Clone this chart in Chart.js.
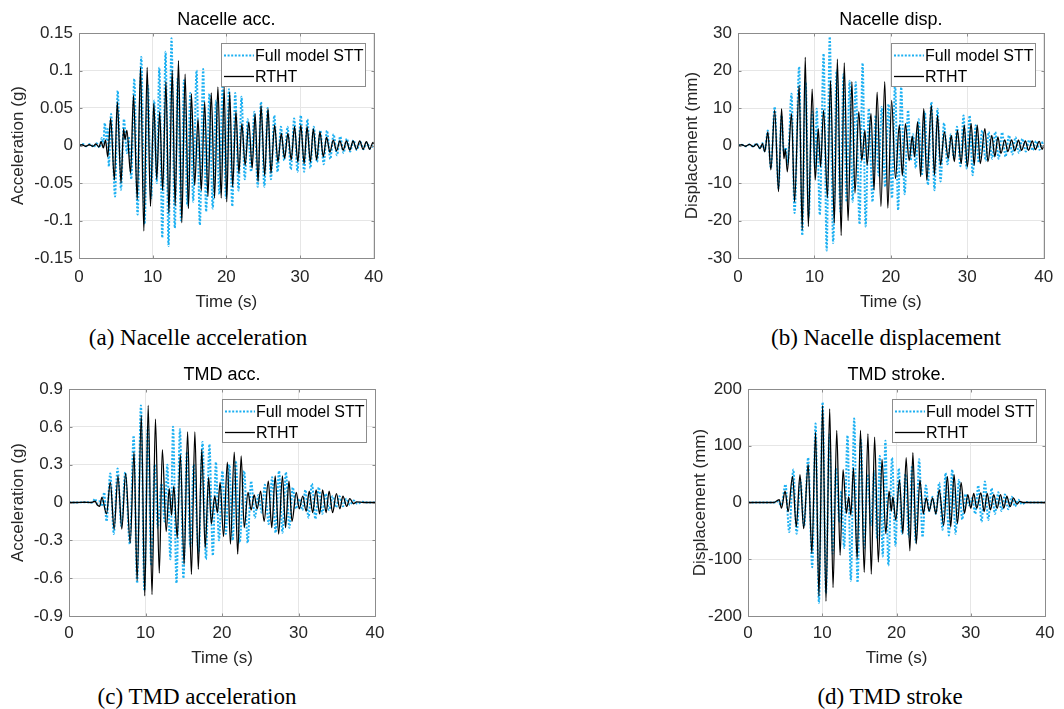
<!DOCTYPE html>
<html>
<head>
<meta charset="utf-8">
<script src="https://cdn.jsdelivr.net/npm/chart.js@4"></script>
<style>
  body { margin: 0; background: #fff; width: 1064px; height: 709px; position: relative; overflow: hidden; }
  canvas { position: absolute; }
  .cap { position: absolute; font-family: "Liberation Serif", "Times New Roman", serif; font-size: 23px; color: #000; transform: translate(-50%, -50%); white-space: nowrap; }
</style>
</head>
<body>
<canvas id="nacAcc" width="392" height="320" style="left:0;top:0"></canvas>
<canvas id="nacDisp" width="392" height="320" style="left:670px;top:0"></canvas>
<canvas id="tmdAcc" width="392" height="320" style="left:0;top:355px"></canvas>
<canvas id="tmdStroke" width="392" height="320" style="left:670px;top:355px"></canvas>
<div class="cap" style="left:198px;top:338px">(a) Nacelle acceleration</div>
<div class="cap" style="left:886px;top:338px">(b) Nacelle displacement</div>
<div class="cap" style="left:197px;top:697px">(c) TMD acceleration</div>
<div class="cap" style="left:890px;top:697px">(d) TMD stroke</div>
<script>
const seriesNames = ["Full model STT", "RTHT"];
const timeTicks = [0, 10, 20, 30, 40];
const nacAccTicks = [-0.15, -0.1, -0.05, 0, 0.05, 0.1, 0.15];
const nacDispTicks = [-30, -20, -10, 0, 10, 20, 30];
const tmdAccTicks = [-0.9, -0.6, -0.3, 0, 0.3, 0.6, 0.9];
const tmdStrokeTicks = [-200, -100, 0, 100, 200];

// peaks and troughs, [time s, value]
const nacAccSTT = [[0,0],[0.5,0.002],[1,-0.001],[1.5,0.002],[2,-0.002],[2.4,0.003],[2.8,-0.003],[3.1,0.01],[3.3,0.003],[3.5,0.03],[3.75,0.008],[3.9,0.022],[4.05,-0.028],[4.35,0.042],[4.9,-0.068],[5.25,0.073],[5.7,-0.059],[6.1,0.035],[6.5,-0.01],[6.75,0.012],[7.1,-0.045],[7.5,0.089],[7.95,-0.092],[8.45,0.118],[8.9,-0.105],[9.35,0.08],[9.8,-0.07],[10.2,0.06],[10.55,-0.05],[10.9,0.104],[11.3,-0.123],[11.75,0.125],[12.15,-0.134],[12.55,0.143],[13,-0.11],[13.4,0.09],[13.85,-0.1],[14.25,0.087],[14.7,-0.08],[15.1,0.07],[15.5,-0.075],[15.95,0.1],[16.4,-0.106],[16.85,0.102],[17.25,-0.088],[17.7,0.069],[18.15,-0.084],[18.6,0.06],[19.05,-0.065],[19.5,0.08],[19.95,-0.07],[20.35,0.075],[20.8,-0.081],[21.2,0.07],[21.65,-0.06],[22.05,0.065],[22.5,-0.045],[22.9,0.035],[23.35,-0.035],[23.8,0.045],[24.25,-0.055],[24.7,0.058],[25.15,-0.055],[25.6,0.05],[26.05,-0.045],[26.5,0.04],[26.95,-0.035],[27.4,0.025],[27.85,-0.02],[28.3,0.025],[28.75,-0.032],[29.2,0.036],[29.65,-0.035],[30.1,0.04],[30.55,-0.035],[31,0.035],[31.4,-0.03],[31.85,0.025],[32.3,-0.022],[32.75,0.02],[33.2,-0.025],[33.65,0.02],[34.1,-0.018],[34.55,0.015],[35,-0.013],[35.45,0.012],[35.9,-0.01],[36.35,0.009],[36.8,-0.008],[37.25,0.007],[37.7,-0.006],[38.15,0.005],[38.6,-0.005],[39.05,0.004],[39.5,-0.004],[40,0]];
const nacAccRTHT = [[0,0],[0.4,0.001],[0.9,-0.001],[1.4,0.001],[1.9,-0.001],[2.3,0.002],[2.7,-0.002],[3,0.005],[3.3,-0.003],[3.6,0.007],[3.9,-0.015],[4.3,0.036],[4.8,-0.046],[5.2,0.058],[5.7,-0.05],[6.05,0.022],[6.25,0.008],[6.5,0.02],[7,-0.037],[7.4,0.067],[7.9,-0.072],[8.35,0.104],[8.8,-0.114],[9.25,0.104],[9.7,-0.081],[10.15,0.056],[10.55,-0.045],[10.95,0.045],[11.35,-0.06],[11.8,0.085],[12.2,-0.09],[12.65,0.1],[13.05,-0.08],[13.5,0.113],[13.95,-0.103],[14.4,0.095],[14.85,-0.084],[15.25,0.069],[15.7,-0.053],[16.15,0.035],[16.6,-0.06],[17.05,0.058],[17.5,-0.068],[17.95,0.07],[18.4,-0.07],[18.85,0.078],[19.3,-0.07],[19.7,0.078],[20.05,-0.075],[20.45,0.071],[20.85,-0.055],[21.3,0.045],[21.7,-0.037],[22.1,0.029],[22.55,-0.026],[23.05,0.031],[23.5,-0.03],[23.9,0.042],[24.3,-0.048],[24.7,0.053],[25.2,-0.04],[25.65,0.049],[26.05,-0.037],[26.55,0.027],[27,-0.022],[27.45,0.016],[27.9,-0.017],[28.35,0.016],[28.8,-0.019],[29.25,0.025],[29.7,-0.022],[30.1,0.027],[30.55,-0.024],[30.95,0.025],[31.4,-0.022],[31.8,0.022],[32.25,-0.019],[32.7,0.018],[33.15,-0.015],[33.6,0.011],[34.05,-0.009],[34.5,0.007],[34.95,-0.007],[35.4,0.006],[35.85,-0.006],[36.3,0.006],[36.75,-0.006],[37.2,0.006],[37.65,-0.005],[38.1,0.006],[38.55,-0.005],[39,0.005],[39.45,-0.005],[39.9,0.004],[40,0.002]];

const nacDispSTT = [[0,0],[0.5,0.2],[1,-0.2],[1.5,0.3],[2,-0.3],[2.4,0.5],[2.9,-0.8],[3.2,0.6],[3.5,-1.5],[3.9,4],[4.3,-6],[4.8,10.3],[5.3,-11.4],[5.7,8],[6,-2],[6.25,-0.5],[6.5,-5],[7,13.8],[7.4,-18],[8,21],[8.4,-24],[8.85,17],[9.25,-19],[9.7,9],[10.1,-6],[10.3,9.8],[10.7,-18.5],[11.2,24.5],[11.6,-28],[12,29],[12.45,-26],[12.9,20],[13.4,-17.6],[13.8,19],[14.2,-15],[14.6,17.3],[15,-15],[15.4,16.9],[15.9,-21],[16.3,22],[16.7,-21.6],[17.1,9.8],[17.6,-15],[18,8],[18.4,-8],[18.8,10.3],[19.25,-11],[19.7,11],[20.15,-14],[20.55,17],[20.95,-17.2],[21.35,15.5],[21.8,-13],[22.25,9.4],[22.6,-4],[22.9,3],[23.25,-6],[23.65,7],[24.05,-8],[24.45,9],[24.85,-10.5],[25.3,11.6],[25.7,-11.9],[26.1,9.8],[26.5,-9.6],[26.95,6],[27.4,-5],[27.85,3],[28.25,-3.5],[28.65,5],[29.1,-5.5],[29.5,8],[29.9,-6.1],[30.3,8],[30.7,-7.9],[31.1,5.4],[31.5,-4.5],[31.95,4],[32.4,-4],[32.8,3.6],[33.25,-3.5],[33.65,3.6],[34.1,-3.5],[34.55,3.5],[35,-3],[35.45,2.7],[35.9,-2.4],[36.3,2.2],[36.75,-2],[37.2,1.8],[37.65,-1.6],[38.1,1.5],[38.55,-1.3],[39,1.2],[39.45,-1.1],[39.9,1],[40,0.5]];
const nacDispRTHT = [[0,0],[0.5,0.2],[1,-0.2],[1.5,0.3],[2,-0.3],[2.4,0.4],[2.9,-0.8],[3.2,0.5],[3.5,-1.7],[3.9,3.6],[4.3,-6.5],[4.8,9.4],[5.3,-12.3],[5.7,9.8],[6,-3.5],[6.2,-1],[6.45,-7],[7,8.5],[7.4,-15],[8,16],[8.4,-22.5],[8.8,23.5],[9.2,-21.6],[9.7,15],[10.1,-9.2],[10.5,4.5],[10.8,-5.7],[11.2,9.4],[11.7,-14],[12.1,17.3],[12.6,-20.7],[13,23],[13.5,-24],[13.9,22],[14.4,-20],[14.9,17],[15.3,-12.7],[15.8,9],[16.2,-4],[16.6,4],[16.9,-5.2],[17.4,8.5],[17.8,-11.9],[18.2,14.2],[18.7,-16.3],[19.2,17],[19.6,-16.7],[20.1,12],[20.6,-8.8],[21.1,5.4],[21.5,-8],[21.9,5.8],[22.4,-4],[22.8,2.5],[23.1,-3],[23.5,6.3],[23.9,-8.3],[24.3,9.8],[24.7,-9.2],[25.3,10.7],[25.7,-7.9],[26.1,8],[26.5,-5.2],[27,3.6],[27.5,-3.5],[27.9,2.7],[28.3,-4.3],[28.7,4],[29.2,-4.8],[29.6,5.4],[30,-5.7],[30.5,5.8],[30.9,-5.2],[31.3,5.4],[31.7,-4.8],[32.3,4.5],[32.7,-4.3],[33.2,2.7],[33.6,-3],[34,2.3],[34.4,-2.1],[34.9,1.5],[35.3,-1.6],[35.8,1.5],[36.2,-1.4],[36.7,1.4],[37.1,-1.3],[37.6,1.2],[38,-1.3],[38.5,1.2],[38.9,-1.1],[39.4,1.1],[39.8,-1],[40,0]];

const tmdAccSTT = [[0,0],[1,0],[2,0.002],[3,0],[3.4,0.03],[3.7,-0.01],[4,0.01],[4.3,-0.03],[4.6,0.08],[4.9,-0.15],[5.4,0.23],[5.85,-0.25],[6.35,0.27],[6.85,-0.19],[7.35,0.24],[7.95,-0.33],[8.45,0.53],[8.9,-0.64],[9.4,0.77],[9.85,-0.7],[10.3,0.6],[10.75,-0.5],[11.2,0.3],[11.6,-0.2],[12.1,0.15],[12.5,-0.15],[12.85,0.3],[13.25,-0.45],[13.6,0.6],[14.05,-0.64],[14.5,0.58],[14.95,-0.6],[15.4,0.4],[15.85,-0.35],[16.3,0.3],[16.95,-0.4],[17.45,0.48],[17.9,-0.45],[18.35,0.46],[18.8,-0.42],[19.2,0.32],[19.6,-0.3],[20.05,0.25],[20.5,-0.25],[20.95,0.3],[21.4,-0.3],[21.8,0.33],[22.3,-0.32],[22.9,0.25],[23.35,-0.32],[23.8,0.17],[24.3,-0.12],[24.75,0.06],[25.2,-0.08],[25.6,0.14],[26.1,-0.17],[26.55,0.2],[27,-0.24],[27.45,0.25],[27.9,-0.24],[28.35,0.24],[28.8,-0.2],[29.25,0.12],[29.65,-0.05],[30.1,0.03],[30.5,-0.06],[30.9,0.1],[31.3,-0.12],[31.75,0.15],[32.2,-0.13],[32.65,0.12],[33.1,-0.09],[33.55,0.07],[34,-0.06],[34.45,0.05],[34.9,-0.04],[35.35,0.05],[35.8,-0.03],[36.25,0.03],[36.7,-0.02],[37.2,0.015],[37.7,-0.01],[38.3,0.005],[39,0],[40,0]];
const tmdAccRTHT = [[0,0],[1,0],[2,0.002],[2.9,0],[3.4,0.01],[3.7,-0.02],[4,-0.03],[4.3,0.04],[4.9,-0.09],[5.4,0.16],[5.9,-0.21],[6.4,0.21],[6.9,-0.21],[7.4,0.23],[8,-0.32],[8.5,0.4],[8.9,-0.62],[9.45,0.69],[9.9,-0.74],[10.35,0.77],[10.85,-0.73],[11.3,0.66],[11.8,-0.56],[12.2,0.42],[12.7,-0.23],[13.1,0.11],[13.4,-0.1],[13.7,0.13],[14.15,-0.28],[14.55,0.38],[15.05,-0.49],[15.5,0.56],[16,-0.57],[16.45,0.56],[16.9,-0.53],[17.35,0.42],[17.8,-0.36],[18.25,0.2],[18.6,-0.17],[19.05,0.05],[19.4,-0.08],[19.75,0.16],[20.2,-0.27],[20.7,0.32],[21.1,-0.33],[21.6,0.4],[22.05,-0.41],[22.5,0.37],[22.9,-0.2],[23.4,0.08],[23.8,-0.06],[24.2,0.06],[24.6,-0.05],[25.05,0.09],[25.5,-0.15],[26.05,0.17],[26.5,-0.2],[26.95,0.21],[27.4,-0.25],[27.9,0.21],[28.3,-0.2],[28.75,0.17],[29.15,-0.15],[29.7,0.08],[30.1,-0.05],[30.55,0.05],[31,-0.07],[31.4,0.09],[31.85,-0.08],[32.3,0.1],[32.75,-0.09],[33.15,0.1],[33.6,-0.08],[34,0.09],[34.45,-0.08],[34.95,0.07],[35.4,-0.05],[35.8,0.05],[36.3,-0.03],[36.7,0.03],[37.2,-0.01],[37.6,0.005],[38.5,0],[40,0]];

const tmdStrokeSTT = [[0,0],[3.5,0],[4,2],[4.5,-5],[5.05,32],[5.55,-52],[6.1,58],[6.55,-55],[7.05,40],[7.55,-43],[8.1,79],[8.65,-114],[9.1,139],[9.55,-177],[10.05,177],[10.5,-160],[10.95,120],[11.4,-90],[11.85,60],[12.3,-35],[12.55,20],[12.95,-80],[13.4,118],[13.85,-138],[14.3,148],[14.75,-141],[15.2,110],[15.65,-80],[16.1,50],[16.55,-40],[17,55],[17.4,-65],[17.75,82],[18.15,-95],[18.5,109],[18.9,-111],[19.4,79],[19.85,-76],[20.3,60],[20.75,-55],[21.2,50],[21.65,-60],[22.1,65],[22.6,-70],[23.05,76],[23.5,-61],[23.95,30],[24.4,-15],[24.85,10],[25.3,-20],[25.75,35],[26.2,-48],[26.6,52],[27.05,-58],[27.5,58],[27.95,-55],[28.4,40],[28.85,-30],[29.3,15],[29.75,-5],[30.2,8],[30.6,-20],[31,30],[31.45,-34],[31.9,37],[32.35,-31],[32.8,25],[33.25,-20],[33.7,18],[34.15,-15],[34.6,14],[35.05,-12],[35.5,10],[35.95,-7],[36.4,5],[36.9,-3],[37.5,1],[38,0],[40,0]];
const tmdStrokeRTHT = [[0,0],[3.5,0],[3.9,3],[4.2,5],[4.5,-10],[5,20],[5.4,-16],[6,46],[6.5,-43],[7,49],[7.5,-46],[8.1,67],[8.6,-90],[9.1,124],[9.55,-165],[10.05,171],[10.5,-174],[11,165],[11.45,-150],[11.95,127],[12.4,-93],[12.8,58],[13.25,-19],[13.55,10],[13.85,-22],[14.2,61],[14.7,-99],[15.15,127],[15.65,-123],[16.15,121],[16.6,-126],[17.05,115],[17.55,-105],[18.05,76],[18.55,-55],[19,20],[19.3,-15],[19.5,10],[19.9,-31],[20.4,40],[20.85,-55],[21.3,79],[21.8,-85],[22.2,88],[22.65,-73],[23.15,40],[23.6,-20],[24,8],[24.4,-15],[24.85,8],[25.3,-20],[25.75,22],[26.35,-40],[26.85,46],[27.3,-43],[27.75,49],[28.2,-37],[28.7,35],[29.15,-19],[29.6,14],[30,-10],[30.4,16],[30.8,-10],[31.35,17],[31.8,-16],[32.2,16],[32.65,-13],[33.1,14],[33.55,-10],[34,14],[34.45,-10],[34.85,11],[35.3,-7],[35.75,8],[36.2,-3],[36.6,2],[37,0],[40,0]];

const FONT = "'Liberation Sans', Arial, sans-serif";

const boxPlugin = {
  id: "matlabBox",
  afterDraw(chart) {
    const { ctx, chartArea: a } = chart;
    const xs = chart.scales.x, ys = chart.scales.y;
    const L = Math.round(a.left) + 0.5, R = Math.round(a.right) + 0.5;
    const T = Math.round(a.top) + 0.5, B = Math.round(a.bottom) + 0.5;
    ctx.save();
    ctx.strokeStyle = "#8c8c8c";
    ctx.lineWidth = 1;
    ctx.beginPath();
    for (const t of xs.ticks) {
      const px = Math.round(xs.getPixelForValue(t.value)) + 0.5;
      ctx.moveTo(px, B); ctx.lineTo(px, B - 3);
      ctx.moveTo(px, T); ctx.lineTo(px, T + 3);
    }
    for (const t of ys.ticks) {
      const py = Math.round(ys.getPixelForValue(t.value)) + 0.5;
      ctx.moveTo(L, py); ctx.lineTo(L + 3, py);
      ctx.moveTo(R, py); ctx.lineTo(R - 3, py);
    }
    ctx.stroke();
    ctx.strokeRect(L, T, R - L, B - T);

    // legend box
    const lx = Math.round(a.right) - 153, ly = Math.round(a.top) + 10;
    ctx.fillStyle = "#fff";
    ctx.fillRect(lx, ly, 144, 43);
    ctx.strokeStyle = "#8c8c8c";
    ctx.strokeRect(lx + 0.5, ly + 0.5, 144, 43);
    chart.data.datasets.forEach((ds, i) => {
      const cy = ly + 12.5 + i * 21;
      ctx.strokeStyle = ds.borderColor;
      ctx.lineWidth = ds.borderWidth;
      ctx.setLineDash(ds.borderDash || []);
      ctx.beginPath();
      ctx.moveTo(lx + 3, cy);
      ctx.lineTo(lx + 33, cy);
      ctx.stroke();
      ctx.setLineDash([]);
      ctx.fillStyle = "#000";
      ctx.font = "16px " + FONT;
      ctx.textBaseline = "middle";
      ctx.fillText(ds.label, lx + 34, cy + 1);
    });
    ctx.restore();
  },
};

function toXY(arr) {
  return arr.map((p) => ({ x: p[0], y: p[1] }));
}

function buildChart(id, title, yTitle, yTicks, stt, rtht, lay) {
  const tickFont = { family: FONT, size: 17, lineHeight: 1.2 };
  const labelFont = { family: FONT, size: 17, lineHeight: 1.2 };
  new Chart(document.getElementById(id), {
    type: "line",
    data: {
      datasets: [
        { label: seriesNames[0], data: toXY(stt), borderColor: "#1cb0f2", borderWidth: 2, borderDash: [2, 1.6], order: 1 },
        { label: seriesNames[1], data: toXY(rtht), borderColor: "#000000", borderWidth: 1.3, order: 0 },
      ],
    },
    options: {
      responsive: false,
      animation: false,
      devicePixelRatio: 1,
      layout: { padding: { left: 0, right: lay.right, top: 0, bottom: 0 } },
      elements: { point: { radius: 0 }, line: { cubicInterpolationMode: "monotone", fill: false } },
      plugins: {
        legend: { display: false },
        tooltip: { enabled: false },
        title: {
          display: true,
          text: title,
          fullSize: false,
          color: "#000",
          font: { family: FONT, size: 18, weight: "normal", lineHeight: 1.2 },
          padding: { top: lay.titleTop, bottom: lay.titleBottom },
        },
      },
      scales: {
        x: {
          type: "linear",
          min: 0,
          max: 40,
          afterBuildTicks: (s) => { s.ticks = timeTicks.map((v) => ({ value: v })); },
          afterFit: (s) => { s.height = lay.xHeight; },
          grid: { color: "#e6e6e6", drawTicks: false },
          border: { display: false },
          ticks: { padding: lay.xTickPad, color: "#262626", font: tickFont, maxRotation: 0 },
          title: { display: true, text: "Time (s)", color: "#262626", font: labelFont, padding: { top: 0, bottom: lay.xTitlePad } },
        },
        y: {
          min: yTicks[0],
          max: yTicks[yTicks.length - 1],
          afterBuildTicks: (s) => { s.ticks = yTicks.map((v) => ({ value: v })); },
          afterFit: (s) => { s.width = lay.yWidth; },
          grid: { color: "#e6e6e6", drawTicks: false },
          border: { display: false },
          ticks: { padding: 6, color: "#262626", font: tickFont, callback: (v) => String(Math.round(v * 100) / 100) },
          title: { display: true, text: yTitle, color: "#262626", font: labelFont, padding: { top: lay.yTitlePad, bottom: 0 } },
        },
      },
    },
    plugins: [boxPlugin],
  });
}

buildChart("nacAcc", "Nacelle acc.", "Acceleration (g)", nacAccTicks, nacAccSTT, nacAccRTHT,
  { right: 13, yWidth: 79, yTitlePad: 8, titleTop: 9, titleBottom: 2.4, xHeight: 62, xTickPad: 8.8, xTitlePad: 7.8 });
buildChart("nacDisp", "Nacelle disp.", "Displacement (mm)", nacDispTicks, nacDispSTT, nacDispRTHT,
  { right: 12, yWidth: 68, yTitlePad: 12, titleTop: 9, titleBottom: 2.4, xHeight: 62, xTickPad: 8.8, xTitlePad: 7.8 });
buildChart("tmdAcc", "TMD acc.", "Acceleration (g)", tmdAccTicks, tmdAccSTT, tmdAccRTHT,
  { right: 14, yWidth: 69, yTitlePad: 8, titleTop: 9.2, titleBottom: 3.2, xHeight: 59, xTickPad: 7.5, xTitlePad: 6.8 });
buildChart("tmdStroke", "TMD stroke.", "Displacement (mm)", tmdStrokeTicks, tmdStrokeSTT, tmdStrokeRTHT,
  { right: 12, yWidth: 78, yTitlePad: 20, titleTop: 9.2, titleBottom: 3.2, xHeight: 59, xTickPad: 7.5, xTitlePad: 6.8 });
</script>
</body>
</html>
